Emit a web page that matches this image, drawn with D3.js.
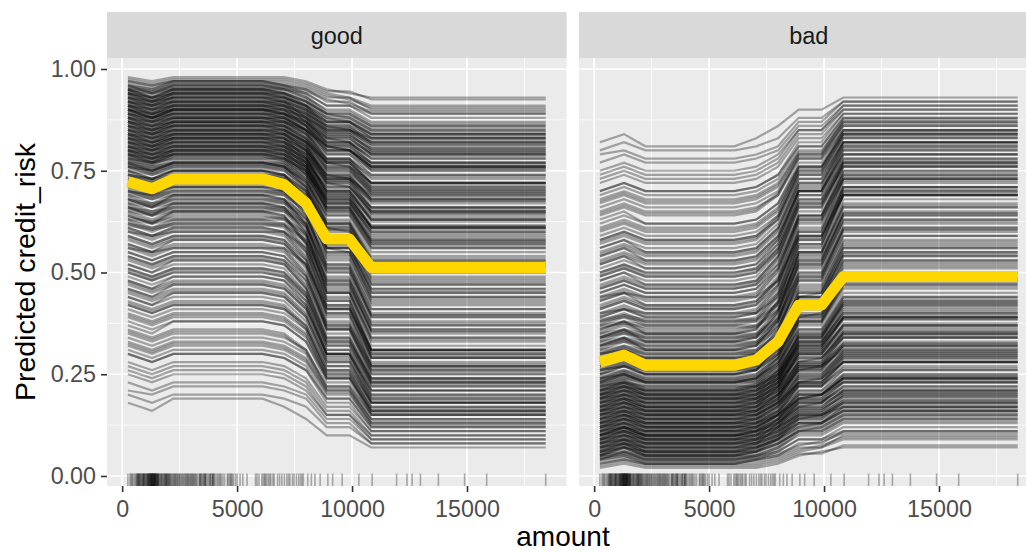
<!DOCTYPE html>
<html><head><meta charset="utf-8">
<script src="https://cdn.jsdelivr.net/npm/d3@7"></script>
<style>
body{margin:0;background:#fff}
svg{display:block}
text{font-family:"Liberation Sans",Arial,Helvetica,sans-serif}
</style>
</head><body>
<svg id="c" width="1026" height="553"></svg>
<script>
// ---- data ----
const panels = ["good", "bad"];
const amountGrid = [250, 1300, 2230, 6100, 7050, 8000, 8900, 9890, 10840, 18424];
const xTicks = [0, 5000, 10000, 15000];
const xMinorTicks = [2500, 7500, 12500, 17500];
const yTicks = [0, 0.25, 0.5, 0.75, 1];
const yTickLabels = ["0.00", "0.25", "0.50", "0.75", "1.00"];
const yMinorTicks = [0.125, 0.375, 0.625, 0.875];
// average (PDP) curve per class
const pdpGood = [0.723, 0.706, 0.73, 0.73, 0.716, 0.67, 0.582, 0.582, 0.512, 0.512];
const pdpBad  = [0.28, 0.297, 0.272, 0.272, 0.285, 0.33, 0.42, 0.42, 0.49, 0.49];
// individual (ICE) curves, predicted probability of class "good" at each amountGrid point
const iceGood = [
[.98,.97,.98,.98,.98,.97,.95,.94,.93,.93],[.97,.96,.97,.97,.97,.96,.94,.93,.91,.91],[.97,.96,.97,.97,.96,.95,.92,.92,.89,.89],
[.96,.95,.97,.97,.96,.94,.91,.91,.88,.88],[.96,.95,.96,.96,.96,.95,.93,.93,.90,.90],[.96,.94,.96,.96,.95,.93,.89,.89,.86,.86],
[.95,.94,.96,.96,.95,.93,.90,.90,.87,.87],[.95,.94,.95,.95,.95,.94,.91,.91,.89,.89],[.95,.93,.95,.95,.94,.91,.87,.87,.83,.83],
[.95,.93,.95,.95,.94,.92,.88,.88,.85,.85],[.94,.93,.95,.95,.94,.92,.89,.88,.85,.85],[.94,.92,.94,.94,.93,.90,.85,.85,.81,.81],
[.94,.93,.94,.94,.94,.92,.89,.89,.86,.86],[.94,.92,.94,.94,.93,.91,.86,.86,.82,.82],[.93,.92,.94,.94,.93,.91,.87,.87,.84,.84],
[.93,.91,.93,.93,.92,.89,.84,.84,.80,.80],[.93,.92,.93,.93,.93,.91,.88,.87,.84,.84],[.93,.91,.93,.93,.92,.88,.82,.82,.77,.77],
[.92,.91,.93,.93,.92,.90,.86,.86,.83,.83],[.92,.90,.92,.92,.91,.88,.83,.83,.79,.79],[.92,.91,.92,.92,.92,.90,.87,.87,.84,.84],
[.92,.90,.92,.92,.91,.87,.81,.81,.76,.76],[.91,.90,.92,.92,.91,.89,.85,.85,.82,.82],[.91,.89,.91,.91,.90,.87,.82,.82,.78,.78],
[.91,.90,.91,.91,.91,.89,.86,.85,.83,.83],[.91,.89,.91,.91,.90,.86,.79,.79,.74,.74],[.90,.89,.91,.91,.90,.88,.84,.84,.80,.80],
[.90,.88,.90,.90,.89,.86,.81,.80,.76,.76],[.90,.89,.90,.90,.90,.88,.85,.85,.82,.82],[.90,.88,.90,.90,.89,.85,.78,.78,.72,.72],
[.90,.88,.90,.90,.89,.87,.83,.83,.79,.79],[.89,.88,.90,.90,.89,.86,.80,.80,.75,.75],[.89,.87,.89,.89,.88,.84,.77,.77,.71,.71],
[.89,.88,.89,.89,.89,.87,.83,.82,.78,.78],[.89,.87,.89,.89,.88,.85,.80,.80,.76,.76],[.88,.87,.89,.89,.88,.86,.82,.82,.79,.79],
[.88,.86,.88,.88,.87,.83,.76,.76,.70,.70],[.88,.87,.88,.88,.88,.85,.81,.81,.77,.77],[.88,.86,.88,.88,.87,.84,.78,.78,.73,.73],
[.87,.86,.88,.88,.87,.85,.80,.80,.76,.76],[.87,.85,.87,.87,.86,.82,.75,.75,.69,.69],[.87,.86,.87,.87,.87,.85,.81,.80,.77,.77],
[.87,.85,.87,.87,.86,.83,.77,.77,.72,.72],[.86,.85,.87,.87,.86,.84,.79,.79,.75,.75],[.86,.84,.86,.86,.85,.82,.76,.76,.71,.71],
[.86,.85,.86,.86,.86,.83,.78,.78,.74,.74],[.86,.84,.86,.86,.85,.81,.73,.73,.66,.66],[.85,.84,.86,.86,.85,.82,.77,.77,.72,.72],
[.85,.83,.85,.85,.84,.80,.72,.72,.65,.65],[.85,.84,.85,.85,.85,.82,.77,.76,.72,.72],[.85,.83,.85,.85,.84,.81,.74,.74,.68,.68],
[.84,.83,.85,.85,.84,.80,.73,.73,.67,.67],[.84,.82,.84,.84,.83,.79,.70,.70,.63,.63],[.84,.83,.84,.84,.84,.81,.75,.75,.70,.70],
[.84,.82,.84,.84,.83,.78,.69,.69,.61,.61],[.83,.82,.84,.84,.83,.80,.74,.74,.68,.68],[.83,.81,.83,.83,.82,.78,.70,.70,.64,.64],
[.83,.82,.83,.83,.83,.80,.74,.73,.69,.69],[.83,.81,.83,.83,.82,.77,.67,.67,.59,.59],[.82,.81,.83,.83,.82,.79,.72,.72,.66,.66],
[.82,.80,.82,.82,.81,.77,.68,.68,.61,.61],[.82,.81,.82,.82,.82,.79,.73,.73,.68,.68],[.82,.80,.82,.82,.81,.76,.66,.66,.57,.57],
[.81,.80,.82,.82,.81,.78,.71,.71,.65,.65],[.81,.79,.81,.81,.80,.76,.67,.67,.60,.60],[.81,.80,.81,.81,.81,.78,.72,.71,.66,.66],
[.81,.79,.81,.81,.80,.75,.65,.65,.56,.56],[.80,.79,.81,.81,.80,.77,.70,.70,.63,.63],[.80,.78,.80,.80,.79,.75,.66,.66,.58,.58],
[.80,.79,.80,.80,.80,.77,.71,.71,.65,.65],[.80,.78,.80,.80,.79,.74,.63,.63,.54,.54],[.79,.78,.80,.80,.79,.76,.68,.68,.61,.61],
[.79,.77,.79,.79,.78,.74,.65,.65,.57,.57],[.79,.78,.79,.79,.79,.76,.69,.69,.63,.63],[.79,.77,.79,.79,.78,.73,.62,.62,.52,.52],
[.78,.77,.79,.79,.78,.75,.67,.67,.60,.60],[.78,.76,.78,.78,.77,.72,.62,.62,.53,.53],[.78,.77,.78,.78,.78,.75,.68,.68,.61,.61],
[.77,.75,.77,.77,.76,.71,.60,.60,.50,.50],[.77,.76,.77,.77,.77,.74,.66,.66,.58,.58],[.77,.75,.77,.77,.76,.71,.61,.61,.52,.52],
[.76,.75,.77,.77,.76,.73,.64,.64,.56,.56],[.76,.74,.76,.76,.75,.70,.59,.59,.49,.49],[.76,.75,.76,.76,.76,.72,.64,.64,.55,.55],
[.75,.73,.75,.75,.74,.69,.57,.57,.47,.47],[.75,.74,.75,.75,.75,.71,.62,.62,.53,.53],[.75,.73,.75,.75,.74,.68,.56,.56,.45,.45],
[.74,.73,.75,.75,.74,.70,.61,.61,.52,.52],[.74,.72,.74,.74,.73,.68,.56,.56,.46,.46],[.74,.73,.74,.74,.74,.70,.61,.60,.51,.51],
[.73,.71,.73,.73,.72,.67,.55,.55,.44,.44],[.73,.72,.73,.73,.73,.69,.59,.59,.50,.50],[.72,.70,.73,.73,.72,.66,.54,.54,.43,.43],
[.72,.71,.72,.72,.72,.68,.58,.58,.48,.48],[.72,.70,.72,.72,.71,.65,.52,.52,.41,.41],[.71,.70,.71,.71,.71,.67,.57,.57,.47,.47],
[.71,.69,.71,.71,.70,.64,.51,.51,.39,.39],[.70,.69,.71,.71,.70,.66,.56,.56,.46,.46],[.70,.68,.70,.70,.69,.63,.50,.50,.38,.38],
[.70,.69,.70,.70,.70,.66,.56,.55,.45,.45],[.69,.67,.69,.69,.68,.62,.49,.49,.37,.37],[.69,.68,.69,.69,.69,.65,.55,.55,.44,.44],
[.68,.66,.69,.69,.68,.62,.48,.48,.36,.36],[.68,.66,.68,.68,.67,.61,.47,.47,.35,.35],[.68,.67,.68,.68,.68,.64,.53,.53,.42,.42],
[.67,.65,.67,.67,.66,.60,.46,.46,.34,.34],[.67,.66,.67,.67,.67,.63,.52,.52,.41,.41],[.66,.64,.67,.67,.66,.60,.45,.45,.33,.33],
[.66,.64,.66,.66,.65,.59,.45,.45,.32,.32],[.66,.65,.66,.66,.66,.62,.51,.51,.40,.40],[.65,.63,.65,.65,.64,.58,.44,.44,.31,.31],
[.65,.64,.65,.65,.65,.61,.50,.50,.39,.39],[.64,.62,.65,.65,.64,.57,.43,.43,.30,.30],[.64,.62,.64,.64,.63,.57,.43,.43,.31,.31],
[.63,.62,.63,.63,.63,.59,.48,.48,.37,.37],[.63,.61,.63,.63,.62,.56,.42,.42,.29,.29],[.62,.60,.62,.62,.61,.55,.41,.41,.29,.29],
[.62,.61,.62,.62,.62,.58,.47,.47,.36,.36],[.61,.59,.61,.61,.60,.54,.40,.40,.28,.28],[.61,.59,.61,.61,.60,.55,.42,.42,.31,.31],
[.60,.58,.60,.60,.59,.53,.39,.39,.27,.27],[.60,.59,.60,.60,.60,.56,.45,.45,.34,.34],[.59,.57,.59,.59,.58,.52,.38,.38,.27,.27],
[.59,.57,.59,.59,.58,.53,.41,.41,.30,.30],[.58,.56,.58,.58,.57,.51,.37,.37,.26,.26],[.57,.55,.58,.58,.57,.52,.40,.40,.29,.29],
[.57,.55,.57,.57,.56,.50,.36,.36,.25,.25],[.56,.54,.56,.56,.55,.49,.36,.36,.25,.25],[.56,.55,.56,.56,.56,.52,.41,.41,.31,.31],
[.55,.53,.55,.55,.54,.48,.35,.35,.24,.24],[.55,.53,.55,.55,.54,.49,.37,.37,.27,.27],[.54,.52,.54,.54,.53,.47,.34,.34,.23,.23],
[.54,.52,.54,.54,.53,.48,.36,.36,.26,.26],[.53,.51,.53,.53,.52,.46,.33,.33,.23,.23],[.52,.50,.53,.53,.52,.46,.34,.34,.24,.24],
[.52,.50,.52,.52,.51,.45,.32,.32,.22,.22],[.51,.49,.51,.51,.50,.45,.33,.33,.24,.24],[.51,.49,.51,.51,.50,.44,.31,.31,.21,.21],
[.50,.48,.50,.50,.49,.44,.32,.32,.23,.23],[.50,.48,.50,.50,.49,.43,.30,.30,.20,.20],[.49,.47,.49,.49,.48,.43,.31,.31,.22,.22],
[.48,.46,.49,.49,.48,.42,.30,.30,.20,.20],[.48,.46,.48,.48,.47,.42,.30,.30,.21,.21],[.47,.45,.47,.47,.46,.41,.29,.29,.19,.19],
[.46,.44,.47,.47,.46,.41,.30,.30,.21,.21],[.46,.44,.46,.46,.45,.40,.28,.28,.18,.18],[.45,.43,.45,.45,.44,.39,.28,.28,.19,.19],
[.44,.42,.45,.45,.44,.39,.27,.27,.18,.18],[.44,.42,.44,.44,.43,.38,.27,.27,.18,.18],[.43,.41,.43,.43,.42,.37,.26,.26,.17,.17],
[.42,.40,.42,.42,.41,.37,.26,.26,.18,.18],[.42,.40,.42,.42,.41,.36,.25,.25,.16,.16],[.41,.39,.41,.41,.40,.36,.25,.25,.17,.17],
[.40,.38,.40,.40,.39,.35,.24,.24,.15,.15],[.39,.37,.39,.39,.38,.34,.24,.24,.16,.16],[.38,.36,.38,.38,.37,.33,.23,.23,.15,.15],
[.37,.35,.38,.38,.37,.33,.24,.24,.16,.16],[.36,.34,.36,.36,.35,.31,.22,.22,.14,.14],[.35,.33,.35,.35,.34,.31,.22,.22,.15,.15],
[.34,.32,.34,.34,.33,.30,.21,.21,.13,.13],[.33,.31,.33,.33,.32,.29,.21,.21,.14,.14],[.32,.30,.32,.32,.31,.28,.20,.20,.13,.13],
[.31,.29,.31,.31,.30,.27,.19,.19,.12,.12],[.30,.28,.30,.30,.29,.26,.19,.19,.12,.12],[.30,.28,.30,.30,.29,.26,.18,.18,.11,.11],
[.28,.26,.28,.28,.27,.24,.17,.17,.11,.11],[.27,.25,.27,.27,.26,.23,.16,.16,.10,.10],[.26,.24,.26,.26,.25,.22,.15,.15,.10,.10],
[.25,.23,.25,.25,.24,.21,.15,.15,.09,.09],[.23,.21,.23,.23,.22,.20,.14,.14,.09,.09],[.21,.20,.22,.22,.21,.19,.13,.13,.08,.08],
[.20,.18,.20,.20,.19,.17,.12,.12,.08,.08],[.18,.16,.19,.19,.17,.14,.10,.10,.07,.07],
[.975,.965,.975,.975,.975,.965,.945,.945,.925,.925],[.965,.955,.965,.965,.965,.955,.935,.925,.905,.905],
[.955,.945,.965,.965,.955,.935,.895,.895,.865,.865],[.955,.945,.955,.955,.955,.945,.925,.915,.895,.895],
[.945,.935,.955,.955,.945,.925,.885,.885,.855,.855],[.945,.925,.945,.945,.935,.905,.855,.855,.815,.815],
[.935,.925,.945,.945,.935,.915,.875,.875,.845,.845],[.935,.915,.935,.935,.925,.895,.845,.845,.805,.805],
[.925,.915,.935,.935,.925,.905,.865,.865,.835,.835],[.925,.905,.925,.925,.915,.885,.835,.835,.795,.795],
[.915,.905,.925,.925,.915,.895,.855,.855,.825,.825],[.915,.895,.915,.915,.905,.875,.815,.815,.765,.765],
[.905,.895,.915,.915,.905,.885,.845,.845,.815,.815],[.905,.885,.905,.905,.895,.865,.805,.805,.755,.755],
[.895,.885,.905,.905,.895,.875,.835,.835,.805,.805],[.895,.875,.895,.895,.885,.845,.775,.775,.715,.715],
[.885,.875,.895,.895,.885,.865,.825,.825,.795,.795],[.885,.865,.885,.885,.875,.835,.765,.765,.705,.705],
[.875,.865,.885,.885,.875,.855,.815,.815,.785,.785],[.875,.855,.875,.875,.865,.825,.755,.755,.695,.695],
[.865,.855,.875,.875,.865,.845,.795,.795,.755,.755],[.865,.845,.865,.865,.855,.815,.735,.735,.675,.675],
[.855,.845,.865,.865,.855,.825,.775,.775,.735,.735],[.855,.835,.855,.855,.845,.805,.725,.725,.655,.655],
[.845,.835,.855,.855,.845,.815,.755,.755,.705,.705],[.845,.825,.845,.845,.835,.795,.715,.715,.645,.645],
[.835,.825,.845,.845,.835,.805,.745,.745,.695,.695],[.835,.815,.835,.835,.825,.785,.695,.695,.625,.625],
[.825,.815,.835,.835,.825,.795,.735,.735,.685,.685],[.825,.805,.825,.825,.815,.775,.685,.685,.615,.615],
[.815,.805,.825,.825,.815,.785,.725,.725,.675,.675],[.815,.795,.815,.815,.805,.765,.675,.675,.595,.595],
[.805,.795,.815,.815,.805,.775,.705,.705,.645,.645],[.805,.785,.805,.805,.795,.755,.665,.665,.585,.585],
[.795,.785,.805,.805,.795,.765,.695,.695,.635,.635],[.795,.775,.795,.795,.785,.745,.655,.655,.575,.575],
[.785,.775,.795,.795,.785,.755,.685,.685,.615,.615],[.785,.765,.785,.785,.775,.725,.625,.625,.535,.535],
[.775,.765,.785,.785,.775,.745,.675,.675,.605,.605],[.775,.755,.775,.775,.765,.715,.615,.615,.525,.525],
[.765,.755,.765,.765,.765,.735,.655,.655,.575,.575],[.765,.745,.765,.765,.755,.705,.605,.605,.515,.515],
[.755,.745,.755,.755,.755,.725,.645,.645,.565,.565],[.745,.725,.745,.745,.735,.685,.575,.575,.475,.475],
[.735,.725,.735,.735,.735,.695,.605,.605,.515,.515],[.725,.705,.725,.725,.715,.665,.545,.545,.435,.435],
[.715,.705,.715,.715,.715,.675,.585,.585,.485,.485],[.705,.685,.705,.705,.695,.645,.515,.515,.395,.395],
[.695,.685,.695,.695,.695,.655,.565,.565,.455,.455],[.685,.665,.685,.685,.675,.615,.475,.475,.355,.355],
[.675,.665,.675,.675,.675,.635,.535,.535,.425,.425],[.665,.645,.665,.665,.655,.595,.455,.455,.335,.335],
[.655,.645,.655,.655,.655,.615,.505,.505,.395,.395],[.645,.625,.645,.645,.635,.575,.435,.435,.305,.305],
[.635,.625,.635,.635,.635,.595,.485,.485,.375,.375],[.625,.605,.625,.625,.615,.555,.415,.415,.295,.295],
[.615,.605,.615,.615,.615,.575,.465,.465,.355,.355],[.605,.585,.605,.605,.595,.535,.395,.395,.275,.275],
[.585,.565,.585,.585,.575,.515,.375,.375,.265,.265],[.565,.545,.565,.565,.555,.495,.365,.365,.255,.255],
[.535,.515,.535,.535,.525,.465,.335,.335,.235,.235],[.505,.485,.505,.505,.495,.445,.325,.325,.225,.225],
[.475,.455,.475,.475,.465,.415,.295,.295,.195,.195],[.455,.435,.455,.455,.445,.395,.285,.285,.185,.185],
[.425,.405,.425,.425,.415,.365,.255,.255,.165,.165],[.395,.375,.395,.395,.385,.345,.245,.245,.155,.155],
[.355,.335,.355,.355,.345,.305,.215,.215,.135,.135],[.325,.305,.325,.325,.315,.285,.205,.205,.125,.125]
];
// observed amounts (rug)
const rugAmount = [250,338,385,426,458,518,571,609,639,660,682,701,718,741,759,781,802,836,860,884,907,926,939,951,975,996,
1024,1047,1076,1092,1107,1123,1138,1155,1168,1185,1199,1213,1228,1238,1249,1262,1274,1285,1295,1308,1316,1330,1343,1355,1364,
1376,1386,1402,1410,1422,1433,1442,1453,1469,1478,1498,1516,1532,1543,1552,1574,1591,1603,1647,1670,1699,1721,1743,1778,1808,
1829,1858,1880,1898,1919,1935,1955,1977,2002,2028,2048,2078,2100,2133,2169,2210,2235,2273,2299,2329,2359,2397,2427,2462,2503,
2520,2578,2606,2647,2684,2728,2762,2799,2825,2862,2890,2924,2964,2991,3031,3059,3092,3124,3160,3195,3229,3275,3349,3368,3398,
3422,3448,3496,3527,3566,3590,3612,3632,3650,3711,3757,3804,3832,3850,3905,3931,3949,3965,4006,4042,4110,4165,4221,4272,4308,
4380,4455,4576,4611,4675,4712,4746,4795,4843,4933,5003,5129,5248,5433,5800,5866,5951,6078,6143,6199,6229,6289,6361,6416,6468,
6560,6614,6761,6850,6948,7057,7166,7238,7297,7408,7476,7582,7678,7758,7824,7882,8072,8229,8386,8613,8947,9157,9572,10297,
10875,11938,12389,12612,12976,13756,14896,15857,18424];

// ---- drawing ----
const svg = d3.select("#c");
const panelTop = 58, panelBottom = 486, stripTop = 12;
const panelX = [[107, 566.6], [579, 1038.6]];
const y = d3.scaleLinear().domain([-0.0246, 1.027]).range([panelBottom, panelTop]);
const FONT = "Liberation Sans, Arial, sans-serif";

panels.forEach((name, i) => {
  const [x0, x1] = panelX[i];
  const x = d3.scaleLinear().domain([-658.7, 19332.7]).range([x0, x1]);
  const g = svg.append("g");
  const clipId = "clip" + i;
  svg.append("clipPath").attr("id", clipId).append("rect")
    .attr("x", x0).attr("y", panelTop).attr("width", x1 - x0).attr("height", panelBottom - panelTop);

  g.append("rect").attr("x", x0).attr("y", panelTop).attr("width", x1 - x0)
    .attr("height", panelBottom - panelTop).attr("fill", "#ebebeb");

  const grid = g.append("g");
  grid.selectAll(".xmin").data(xMinorTicks).join("line")
    .attr("x1", d => x(d)).attr("x2", d => x(d)).attr("y1", panelTop).attr("y2", panelBottom)
    .attr("stroke", "#fff").attr("stroke-width", 0.8);
  grid.selectAll(".ymin").data(yMinorTicks).join("line")
    .attr("x1", x0).attr("x2", x1).attr("y1", d => y(d)).attr("y2", d => y(d))
    .attr("stroke", "#fff").attr("stroke-width", 0.8);
  grid.selectAll(".xmaj").data(xTicks).join("line")
    .attr("x1", d => x(d)).attr("x2", d => x(d)).attr("y1", panelTop).attr("y2", panelBottom)
    .attr("stroke", "#fff").attr("stroke-width", 1.7);
  grid.selectAll(".ymaj").data(yTicks).join("line")
    .attr("x1", x0).attr("x2", x1).attr("y1", d => y(d)).attr("y2", d => y(d))
    .attr("stroke", "#fff").attr("stroke-width", 1.7);

  // strip
  g.append("rect").attr("x", x0).attr("y", stripTop).attr("width", x1 - x0)
    .attr("height", panelTop - stripTop).attr("fill", "#d9d9d9");
  g.append("text").attr("x", (x0 + x1) / 2).attr("y", 43.5).attr("text-anchor", "middle")
    .attr("font-size", 23.5).attr("fill", "#1a1a1a").text(name);

  const plot = g.append("g").attr("clip-path", `url(#${clipId})`);
  const line = d3.line().x((d, j) => x(amountGrid[j])).y(d => y(d));
  // "bad" probability is the complement of "good" for every observation
  const ice = i === 0 ? iceGood : iceGood.map(r => r.map(v => 1 - v));
  plot.selectAll("path.ice").data(ice).join("path").attr("class", "ice")
    .attr("d", line).attr("fill", "none").attr("stroke", "#000")
    .attr("stroke-opacity", 0.32).attr("stroke-width", 2.2);
  plot.append("path").datum(i === 0 ? pdpGood : pdpBad).attr("d", line)
    .attr("fill", "none").attr("stroke", "#FFD700").attr("stroke-width", 11)
    .attr("stroke-linejoin", "round");
  plot.selectAll("line.rug").data(rugAmount).join("line").attr("class", "rug")
    .attr("x1", d => x(d)).attr("x2", d => x(d))
    .attr("y1", panelBottom).attr("y2", panelBottom - 12.5)
    .attr("stroke", "#000").attr("stroke-opacity", 0.3).attr("stroke-width", 1.6);

  // x axis
  const xa = g.append("g").attr("transform", `translate(0,${panelBottom})`)
    .call(d3.axisBottom(x).tickValues(xTicks).tickSize(6).tickPadding(8).tickFormat(d3.format("d")));
  xa.select(".domain").remove();
  xa.selectAll("line").attr("stroke", "#333").attr("stroke-width", 1.6);
  xa.selectAll("text").attr("font-size", 23.3).attr("fill", "#4d4d4d").attr("font-family", FONT);

  if (i === 0) {
    const ya = g.append("g").attr("transform", `translate(${x0},0)`)
      .call(d3.axisLeft(y).tickValues(yTicks).tickSize(6).tickPadding(5).tickFormat((d, k) => yTickLabels[k]));
    ya.select(".domain").remove();
    ya.selectAll("line").attr("stroke", "#333").attr("stroke-width", 1.6);
    ya.selectAll("text").attr("font-size", 23.3).attr("fill", "#4d4d4d").attr("font-family", FONT);
  }
});

svg.append("text").attr("x", 563).attr("y", 546).attr("text-anchor", "middle")
  .attr("font-size", 28).attr("fill", "#000").text("amount");
svg.append("text").attr("transform", "translate(35,272) rotate(-90)").attr("text-anchor", "middle")
  .attr("font-size", 28.5).attr("fill", "#000").text("Predicted credit_risk");
</script>
</body></html>
